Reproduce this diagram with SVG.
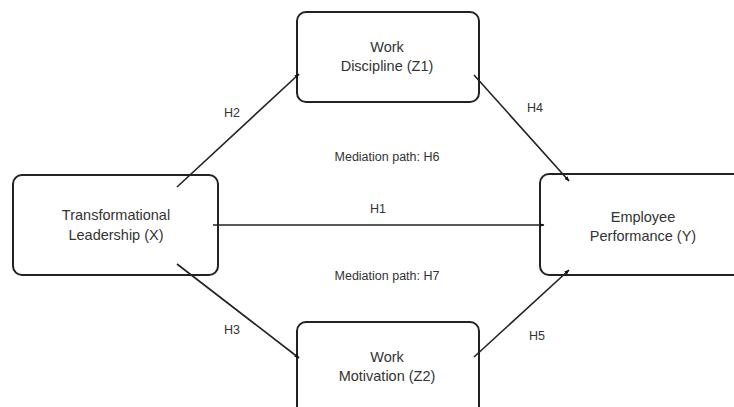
<svg xmlns="http://www.w3.org/2000/svg" width="734" height="407" viewBox="0 0 734 407">
<style>
.box{fill:#fff;stroke:#222;stroke-width:2}
.t{font-family:"Liberation Sans",Arial,sans-serif;font-size:14.5px;fill:#333;text-anchor:middle}
.l{font-family:"Liberation Sans",Arial,sans-serif;font-size:12.5px;fill:#333;text-anchor:middle}
.c{stroke:#222;stroke-width:1.6;fill:none;marker-end:url(#ah)}
</style>
<defs>
<marker id="ah" viewBox="0 0 10 10" refX="9" refY="5" markerWidth="5" markerHeight="5" orient="auto" markerUnits="userSpaceOnUse">
<path d="M0,1 L10,5 L0,9 z" fill="#111"/>
</marker>
</defs>
<rect width="734" height="407" fill="#fff"/>
<g id="node-x">
<rect class="box" x="13" y="175" width="205" height="100" rx="9"/>
<text class="t" x="116" y="220">Transformational</text>
<text class="t" x="116" y="240">Leadership (X)</text>
</g>
<g id="node-z1">
<rect class="box" x="297" y="12" width="182" height="90" rx="9"/>
<text class="t" x="387" y="52">Work</text>
<text class="t" x="387" y="71">Discipline (Z1)</text>
</g>
<g id="node-y">
<rect class="box" x="540" y="174" width="210" height="101" rx="9"/>
<text class="t" x="643" y="222">Employee</text>
<text class="t" x="643" y="241">Performance (Y)</text>
</g>
<g id="node-z2">
<rect class="box" x="297" y="322" width="182" height="100" rx="9"/>
<text class="t" x="387" y="362">Work</text>
<text class="t" x="387" y="381">Motivation (Z2)</text>
</g>
<g id="connectors">
<line class="c" x1="177" y1="187" x2="299" y2="74"/>
<line class="c" x1="177" y1="264" x2="299" y2="358"/>
<line class="c" x1="213" y1="225" x2="544" y2="225"/>
<line class="c" x1="474" y1="75" x2="569" y2="181"/>
<line class="c" x1="474" y1="357" x2="569" y2="270"/>
<text class="l" x="232" y="117">H2</text>
<text class="l" x="232" y="334">H3</text>
<text class="l" x="378" y="213">H1</text>
<text class="l" x="535" y="112">H4</text>
<text class="l" x="537" y="340">H5</text>
<text class="l" x="387" y="161">Mediation path: H6</text>
<text class="l" x="387" y="280">Mediation path: H7</text>
</g>
</svg>
